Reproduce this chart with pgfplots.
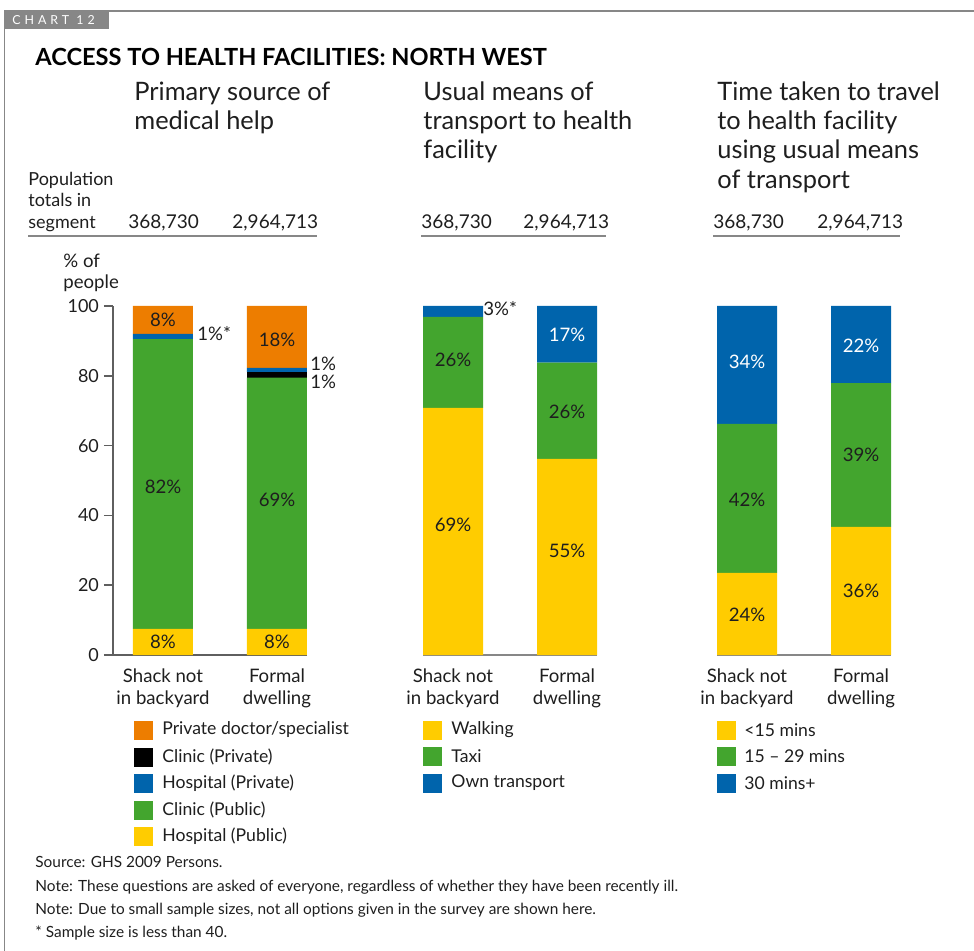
\documentclass[border=0pt]{standalone}
\usepackage{pgfplots}
\pgfplotsset{compat=1.18}
\usepackage{fontspec}
\setmainfont{Lato}
\definecolor{corange}{RGB}{237,125,0}
\definecolor{cblue}{RGB}{0,100,172}
\definecolor{cgreen}{RGB}{67,165,46}
\definecolor{cyellow}{RGB}{255,204,0}
\definecolor{ctext}{RGB}{30,30,30}
\definecolor{cframe}{RGB}{135,135,135}
\definecolor{caxis}{RGB}{95,95,95}

\tikzset{lbl/.style={font=\fontsize{9.3}{10}\selectfont, text=ctext, inner sep=0pt}}
\pgfplotsset{
  panel/.style={
    anchor=south west, scale only axis,
    height=174.5pt, ymin=0, ymax=100,
    ybar stacked, bar width=30pt,
    xtick={0,1},
    xticklabels={{Shack not\\in backyard},{Formal\\dwelling}},
    xticklabel style={align=center, font=\fontsize{9.3}{11}\selectfont, text=ctext, yshift=1pt},
    x tick style={draw=none},
    major tick length=4.5pt, tick align=outside,
    every axis plot/.append style={draw=none},
    clip=false,
  },
}

\begin{document}
\begin{tikzpicture}
% left panel: primary source of medical help
\begin{axis}[panel, at={(56.5pt,-327.5pt)}, width=97pt,
  xmin=-0.4386, xmax=1.2632,
  axis lines*=left,
  axis line style={caxis, line width=0.8pt},
  ytick={0,20,40,60,80,100},
  y tick style={caxis, line width=0.8pt},
  yticklabel style={font=\fontsize{9}{10}\selectfont, text=ctext, xshift=1pt},
  /pgf/number format/assume math mode=true]
\addplot[fill=cyellow] coordinates {(0,7.5) (1,7.5)};
\addplot[fill=cgreen] coordinates {(0,83) (1,72)};
\addplot[fill=black] coordinates {(0,0) (1,1.6)};
\addplot[fill=cblue] coordinates {(0,1.5) (1,1.2)};
\addplot[fill=corange] coordinates {(0,8) (1,17.7)};
\coordinate (a1) at (axis cs:0,96);
\coordinate (a2) at (axis cs:0,48.1);
\coordinate (a3) at (axis cs:0,3.7);
\coordinate (a4) at (axis cs:1,90.3);
\coordinate (a5) at (axis cs:1,44.4);
\coordinate (a6) at (axis cs:1,3.7);
\end{axis}

% middle panel: usual means of transport
\begin{axis}[panel, at={(211.5pt,-327.5pt)}, width=87pt,
  xmin=-0.2632, xmax=1.2632,
  axis x line*=bottom, axis y line=none,
  axis line style={cframe, line width=0.7pt},
  ytick=\empty]
\addplot[fill=cyellow] coordinates {(0,70.8) (1,56.2)};
\addplot[fill=cgreen] coordinates {(0,26.1) (1,27.6)};
\addplot[fill=cblue] coordinates {(0,3.1) (1,16.2)};
\coordinate (b1) at (axis cs:0,84.5);
\coordinate (b2) at (axis cs:0,37.2);
\coordinate (b3) at (axis cs:1,91.7);
\coordinate (b4) at (axis cs:1,69.6);
\coordinate (b5) at (axis cs:1,29.8);
\end{axis}

% right panel: time taken to travel
\begin{axis}[panel, at={(358.5pt,-327.5pt)}, width=87pt,
  xmin=-0.2632, xmax=1.2632,
  axis x line*=bottom, axis y line=none,
  axis line style={cframe, line width=0.7pt},
  ytick=\empty]
\addplot[fill=cyellow] coordinates {(0,23.5) (1,36.7)};
\addplot[fill=cgreen] coordinates {(0,42.7) (1,41.2)};
\addplot[fill=cblue] coordinates {(0,33.8) (1,22.1)};
\coordinate (c1) at (axis cs:0,84);
\coordinate (c2) at (axis cs:0,44.4);
\coordinate (c3) at (axis cs:0,11.5);
\coordinate (c4) at (axis cs:1,88.5);
\coordinate (c5) at (axis cs:1,57.3);
\coordinate (c6) at (axis cs:1,18.3);
\end{axis}

% segment labels
\node[lbl] at (a1) {8\%};
\node[lbl] at (a2) {82\%};
\node[lbl] at (a3) {8\%};
\node[lbl] at (a4) {18\%};
\node[lbl] at (a5) {69\%};
\node[lbl] at (a6) {8\%};
\node[lbl] at (b1) {26\%};
\node[lbl] at (b2) {69\%};
\node[lbl, text=white] at (b3) {17\%};
\node[lbl] at (b4) {26\%};
\node[lbl] at (b5) {55\%};
\node[lbl, text=white] at (c1) {34\%};
\node[lbl] at (c2) {42\%};
\node[lbl] at (c3) {24\%};
\node[lbl, text=white] at (c4) {22\%};
\node[lbl] at (c5) {39\%};
\node[lbl] at (c6) {36\%};

\begin{scope}[x=0.5pt,y=-0.5pt]
\path[use as bounding box] (0,0) rectangle (974,951);
% frame and chart tag
\draw[cframe, line width=0.8pt] (4.5,952) -- (4.5,11) -- (975,11);
\fill[cframe] (4.5,11) rectangle (109,29);
\node[anchor=west, inner sep=0pt, text=white, font=\fontsize{6.2}{7}\selectfont\addfontfeature{LetterSpace=32}] at (12,20.5) {CHART 12};
% title
\node[anchor=base west, inner sep=0pt, text=black, font=\fontsize{11.8}{14}\selectfont\bfseries] at (35,66) {ACCESS TO HEALTH FACILITIES: NORTH WEST};
% panel titles
\begin{scope}[every node/.style={anchor=base west, text=ctext, inner sep=0pt, font=\fontsize{12.7}{14}\selectfont}]
\node at (134,101) {Primary source of};
\node at (134,130) {medical help};
\node at (423,101) {Usual means of};
\node at (423,130) {transport to health};
\node at (423,159) {facility};
\node at (717,101) {Time taken to travel};
\node at (717,130) {to health facility};
\node at (717,159) {using usual means};
\node at (717,189) {of transport};
\end{scope}
% population totals
\begin{scope}[every node/.style={anchor=base west, text=ctext, inner sep=0pt, font=\fontsize{9}{10}\selectfont}]
\node at (28,186) {Population};
\node at (28,207) {totals in};
\node at (28,229) {segment};
\end{scope}
\begin{scope}[every node/.style={anchor=base west, text=ctext, inner sep=0pt, font=\fontsize{9.5}{10}\selectfont}]
\node at (128,229) {368,730};
\node at (232,229) {2,964,713};
\node at (421,229) {368,730};
\node at (523,229) {2,964,713};
\node at (713,229) {368,730};
\node at (817,229) {2,964,713};
\end{scope}
\begin{scope}[every node/.style={anchor=base west, text=ctext, inner sep=0pt, font=\fontsize{9.3}{10}\selectfont}]
\node at (63,268) {\% of};
\node at (63,289) {people};
\node at (197,341) {1\%*};
\node at (310,371) {1\%};
\node at (310,389) {1\%};
\node at (483,316) {3\%*};
\end{scope}
\draw[cframe, line width=0.8pt] (28,236) -- (317,236);
\draw[cframe, line width=0.8pt] (421,236) -- (606,236);
\draw[cframe, line width=0.8pt] (713,236) -- (900,236);
% legends
\begin{scope}[every node/.style={anchor=west, text=ctext, inner sep=0pt, font=\fontsize{8.8}{10}\selectfont}]
\fill[corange] (134,720.5) rectangle (153,739.5); \node at (162,730) {Private doctor/specialist};
\fill[black]   (134,747.5) rectangle (153,766.5); \node at (162,757) {Clinic (Private)};
\fill[cblue]   (134,773.5) rectangle (153,792.5); \node at (162,783) {Hospital (Private)};
\fill[cgreen]  (134,800.5) rectangle (153,819.5); \node at (162,810) {Clinic (Public)};
\fill[cyellow] (134,826.5) rectangle (153,845.5); \node at (162,836) {Hospital (Public)};
\fill[cyellow] (423,720.5) rectangle (442,739.5); \node at (451,730) {Walking};
\fill[cgreen]  (423,746.5) rectangle (442,765.5); \node at (451,756) {Taxi};
\fill[cblue]   (423,773.5) rectangle (442,792.5); \node at (451,783) {Own transport};
\fill[cyellow] (717,720.5) rectangle (736,739.5); \node at (744,730) {<15 mins};
\fill[cgreen]  (717,746.5) rectangle (736,765.5); \node at (744,756) {15 -- 29 mins};
\fill[cblue]   (717,773.5) rectangle (736,792.5); \node at (744,783) {30 mins+};
\end{scope}
% footer
\begin{scope}[every node/.style={anchor=base west, text=ctext, inner sep=0pt, font=\fontsize{7.7}{8}\selectfont}]
\node at (35,867) {Source: GHS 2009 Persons.};
\node at (35,891) {Note: These questions are asked of everyone, regardless of whether they have been recently ill.};
\node at (35,914) {Note: Due to small sample sizes, not all options given in the survey are shown here.};
\node at (35,937) {* Sample size is less than 40.};
\end{scope}
\end{scope}
\end{tikzpicture}
\end{document}
